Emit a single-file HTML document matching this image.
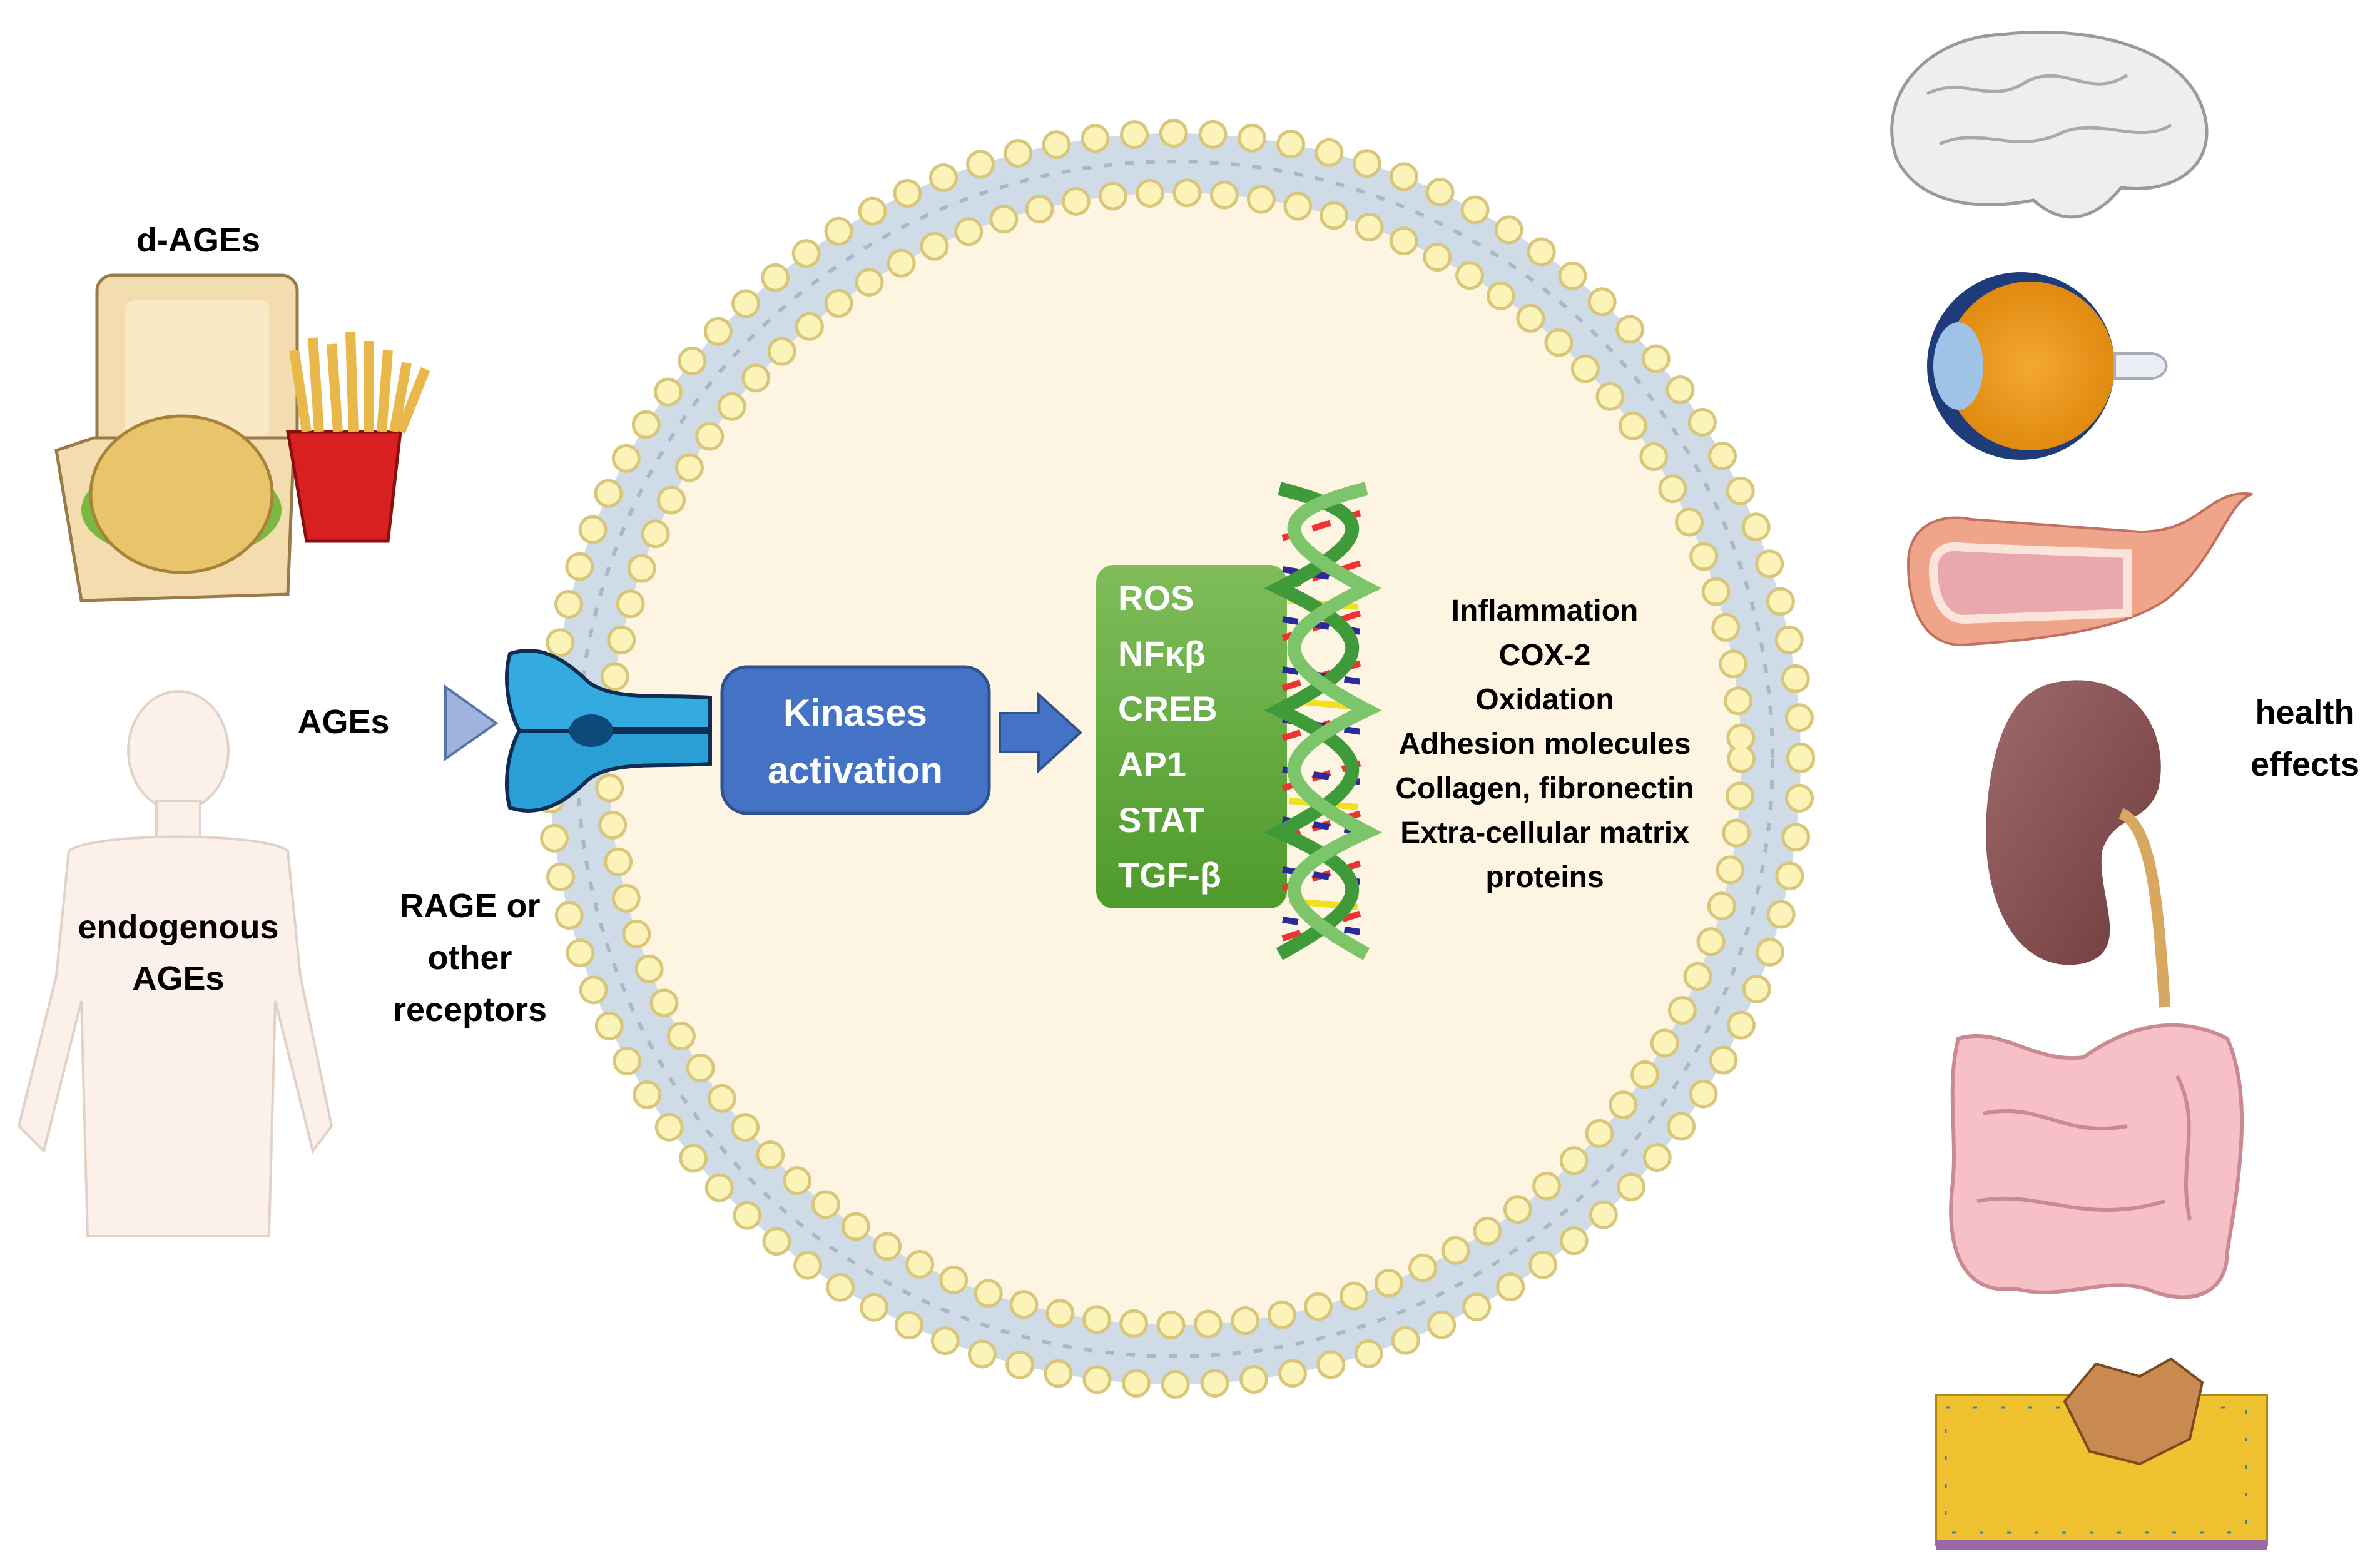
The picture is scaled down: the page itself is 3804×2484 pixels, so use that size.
<!DOCTYPE html>
<html><head><meta charset="utf-8"><style>
html,body{margin:0;padding:0;background:#fff}
body{width:3804px;height:2484px;overflow:hidden;position:relative;font-family:"Liberation Sans",sans-serif}
svg{position:absolute;left:0;top:0}
</style></head><body>
<svg width="3804" height="2484" viewBox="0 0 3804 2484" xmlns="http://www.w3.org/2000/svg">
<defs>
<linearGradient id="gg" x1="0" y1="0" x2="0" y2="1"><stop offset="0" stop-color="#80bd5a"/><stop offset="1" stop-color="#4e9a2c"/></linearGradient>
<radialGradient id="org" cx="0.5" cy="0.5" r="0.5"><stop offset="0" stop-color="#f4a830"/><stop offset="1" stop-color="#e08a10"/></radialGradient>
<linearGradient id="kid" x1="0" y1="0" x2="1" y2="1"><stop offset="0" stop-color="#a06a6a"/><stop offset="1" stop-color="#6e3a3c"/></linearGradient>
</defs>
<!-- cell -->
<circle cx="1878" cy="1213" r="1000" fill="#cfdbe6"/>
<circle cx="1878" cy="1213" r="955" fill="none" stroke="#a9b8c6" stroke-width="6" stroke-dasharray="14 20"/>
<circle cx="1878" cy="1213" r="905" fill="#fdf5e2"/>
<circle cx="1878" cy="1213" r="1000" fill="none" stroke="#d8c77a" stroke-width="46" stroke-linecap="round" stroke-dasharray="0 62.8"/>
<circle cx="1878" cy="1213" r="1000" fill="none" stroke="#fbf3b8" stroke-width="36" stroke-linecap="round" stroke-dasharray="0 62.8"/>
<circle cx="1878" cy="1213" r="905" fill="none" stroke="#d8c77a" stroke-width="46" stroke-linecap="round" stroke-dasharray="0 59.5"/>
<circle cx="1878" cy="1213" r="905" fill="none" stroke="#fbf3b8" stroke-width="36" stroke-linecap="round" stroke-dasharray="0 59.5"/>
<circle cx="1878" cy="1213" r="880" fill="#fdf5e2"/>

<!-- triangle -->
<polygon points="712,1098 793,1156 712,1213" fill="#9fb4dc" stroke="#5a74a8" stroke-width="4"/>
<!-- receptor -->
<g stroke="#0d2e52" stroke-width="6">
<path id="rt" d="M815,1045 C860,1030 900,1050 940,1090 C980,1120 1050,1110 1135,1115 L1135,1165 L975,1165 C955,1145 925,1145 910,1168 L830,1168 C810,1130 805,1080 815,1045Z" fill="#34abe0"/>
<path d="M815,1045 C860,1030 900,1050 940,1090 C980,1120 1050,1110 1135,1115 L1135,1165 L975,1165 C955,1145 925,1145 910,1168 L830,1168 C810,1130 805,1080 815,1045Z" fill="#2a9fd6" transform="translate(0,2336) scale(1,-1)"/>
</g>
<ellipse cx="945" cy="1168" rx="35" ry="26" fill="#0c4a7a"/>
<!-- kinases box -->
<rect x="1154" y="1066" width="427" height="234" rx="40" fill="#4472c4" stroke="#2f528f" stroke-width="5"/>
<text x="1367" y="1160" font-size="60" font-weight="bold" fill="#fff" text-anchor="middle">Kinases</text>
<text x="1367" y="1252" font-size="60" font-weight="bold" fill="#fff" text-anchor="middle">activation</text>
<!-- arrow -->
<polygon points="1598,1140 1660,1140 1660,1110 1727,1171 1660,1232 1660,1202 1598,1202" fill="#4472c4" stroke="#2f528f" stroke-width="4"/>
<!-- green box -->
<rect x="1752" y="903" width="305" height="549" rx="28" fill="url(#gg)"/>
<g font-size="56" font-weight="bold" fill="#fff">
<text x="1787" y="975">ROS</text><text x="1787" y="1064">NFκβ</text><text x="1787" y="1152">CREB</text>
<text x="1787" y="1241">AP1</text><text x="1787" y="1330">STAT</text><text x="1787" y="1418">TGF-β</text>
</g>
<!-- DNA -->
<g stroke-width="10">
<path d="M2050,1500 L2175,1460 M2050,1420 L2175,1380 M2050,1340 L2175,1300 M2050,1260 L2175,1220 M2050,1180 L2175,1140 M2050,1100 L2175,1060 M2050,1020 L2175,980 M2050,940 L2175,900 M2050,860 L2175,820" stroke="#e33" stroke-dasharray="30 20 30 20"/>
<path d="M2050,1470 L2175,1490 M2050,1390 L2175,1410 M2050,1310 L2175,1330 M2050,1230 L2175,1250 M2050,1150 L2175,1170 M2050,1070 L2175,1090 M2050,990 L2175,1010 M2050,910 L2175,930" stroke="#2a2a9a" stroke-dasharray="25 25"/>
<path d="M2060,1440 L2170,1450 M2060,1280 L2170,1290 M2060,1120 L2170,1130 M2060,960 L2170,970" stroke="#f2e020"/>
</g>
<path d="M2045,1525 C2200,1440 2200,1400 2045,1330 C2200,1250 2200,1210 2045,1135 C2200,1055 2200,1015 2045,940 C2200,860 2200,820 2045,781" fill="none" stroke="#3f9a3a" stroke-width="22"/>
<path d="M2184,1525 C2030,1440 2030,1400 2184,1330 C2030,1250 2030,1210 2184,1135 C2030,1055 2030,1015 2184,940 C2030,860 2030,820 2184,781" fill="none" stroke="#7cc56a" stroke-width="22"/>
<!-- effects list -->
<g font-size="48" font-weight="bold" fill="#000" text-anchor="middle">
<text x="2469" y="992">Inflammation</text><text x="2469" y="1063">COX-2</text><text x="2469" y="1134">Oxidation</text>
<text x="2469" y="1205">Adhesion molecules</text><text x="2469" y="1276">Collagen, fibronectin</text>
<text x="2469" y="1347">Extra-cellular matrix</text><text x="2469" y="1418">proteins</text>
</g>
<!-- left labels -->
<g font-size="54" font-weight="bold" fill="#000" text-anchor="middle">
<text x="317" y="402">d-AGEs</text><text x="549" y="1172">AGEs</text>
<text x="751" y="1466">RAGE or</text><text x="751" y="1549">other</text><text x="751" y="1632">receptors</text>
<text x="3684" y="1157">health</text><text x="3684" y="1240">effects</text>
<text x="285" y="1500">endogenous</text><text x="285" y="1582">AGEs</text>
</g>
<!-- food -->
<rect x="155" y="440" width="320" height="330" rx="25" fill="#f3dcae" stroke="#9a7a4a" stroke-width="5"/>
<rect x="200" y="480" width="230" height="220" rx="15" fill="#fae9c6"/>
<path d="M90,720 L150,700 L470,700 L460,950 L130,960Z" fill="#f3dcae" stroke="#9a7a4a" stroke-width="5"/>
<ellipse cx="290" cy="815" rx="160" ry="80" fill="#7bb840"/>
<ellipse cx="290" cy="790" rx="145" ry="125" fill="#e8c56a" stroke="#a8823a" stroke-width="5"/>
<path d="M460,690 L640,690 L620,865 L490,865Z" fill="#d92020" stroke="#8a1010" stroke-width="5"/>
<g stroke="#e8b84a" stroke-width="16"><path d="M470,560 L490,690 M500,540 L510,690 M530,550 L540,690 M560,530 L565,690 M590,545 L590,690 M620,560 L610,690 M650,580 L630,690 M680,590 L640,690"/></g>
<!-- body -->
<g fill="#fbf1ea" stroke="#e2d2c6" stroke-width="4">
<ellipse cx="285" cy="1200" rx="80" ry="95"/>
<rect x="250" y="1280" width="70" height="70"/>
<path d="M110,1360 C150,1330 420,1330 460,1360 L480,1560 L530,1800 L500,1840 L440,1600 L430,1976 L140,1976 L130,1600 L70,1840 L30,1800 L90,1560Z"/>
</g>
<g font-size="54" font-weight="bold" fill="#000" text-anchor="middle">
<text x="285" y="1500">endogenous</text><text x="285" y="1582">AGEs</text>
</g>
<!-- brain -->
<path d="M3030,250 C3000,150 3080,60 3200,55 C3330,40 3500,70 3525,190 C3540,270 3470,310 3390,300 C3350,350 3300,365 3250,320 C3150,340 3060,320 3030,250Z" fill="#eeeeee" stroke="#9a9a9a" stroke-width="5"/>
<path d="M3080,150 C3140,120 3180,170 3240,130 C3300,100 3340,160 3400,120 M3100,230 C3170,200 3220,250 3300,210 C3360,190 3420,230 3470,200" fill="none" stroke="#aaa" stroke-width="5"/>
<!-- eye -->
<circle cx="3230" cy="585" r="150" fill="#1f3c7a"/>
<circle cx="3245" cy="585" r="135" fill="url(#org)"/>
<ellipse cx="3130" cy="585" rx="40" ry="70" fill="#9fc3e6"/>
<path d="M3380,565 L3440,565 C3470,570 3470,600 3440,605 L3380,605Z" fill="#e8eef4" stroke="#aab" stroke-width="4"/>
<!-- vessel -->
<path d="M3050,900 C3050,840 3100,820 3150,830 L3420,850 C3520,850 3530,780 3600,790 C3560,800 3540,900 3460,960 C3400,1000 3300,1020 3150,1030 C3080,1040 3050,980 3050,900Z" fill="#f0a48a" stroke="#c07060" stroke-width="4"/>
<path d="M3090,910 C3090,880 3110,870 3140,875 L3400,885 L3400,980 L3140,990 C3110,990 3090,960 3090,910Z" fill="#e8a8ae" stroke="#fbe4da" stroke-width="14"/>
<!-- kidney -->
<path d="M3290,1090 C3410,1070 3470,1170 3450,1260 C3430,1320 3380,1300 3360,1360 C3350,1430 3410,1520 3330,1540 C3230,1560 3165,1450 3175,1300 C3185,1170 3220,1100 3290,1090Z" fill="url(#kid)"/>
<path d="M3390,1300 C3440,1320 3450,1450 3460,1610" fill="none" stroke="#d8a860" stroke-width="18"/>
<!-- intestine -->
<path d="M3130,1660 C3200,1640 3250,1700 3330,1690 C3400,1640 3480,1620 3560,1660 C3600,1750 3580,1880 3560,2000 C3560,2070 3500,2090 3430,2060 C3360,2040 3300,2080 3220,2060 C3140,2070 3110,2000 3120,1900 C3130,1820 3110,1740 3130,1660Z" fill="#f7c0c6" stroke="#c98a92" stroke-width="6"/>
<path d="M3170,1780 C3260,1760 3300,1820 3400,1800 M3160,1920 C3260,1900 3330,1960 3460,1920 M3480,1720 C3520,1800 3480,1860 3500,1950" fill="none" stroke="#c98a92" stroke-width="6"/>
<!-- tissue -->
<rect x="3094" y="2230" width="529" height="240" fill="#f0c230" stroke="#b08a10" stroke-width="4"/>
<g fill="#5ab8d8"><rect x="3110" y="2250" width="480" height="200" fill="none" stroke="#2a8ab0" stroke-width="3" stroke-dasharray="6 38"/></g>
<path d="M3300,2240 L3350,2180 L3420,2200 L3470,2172 L3520,2210 L3500,2300 L3420,2340 L3340,2320Z" fill="#c98a50" stroke="#7a4a20" stroke-width="4"/>
<rect x="3094" y="2462" width="529" height="15" fill="#9a6aa8"/>
</svg>
</body></html>
